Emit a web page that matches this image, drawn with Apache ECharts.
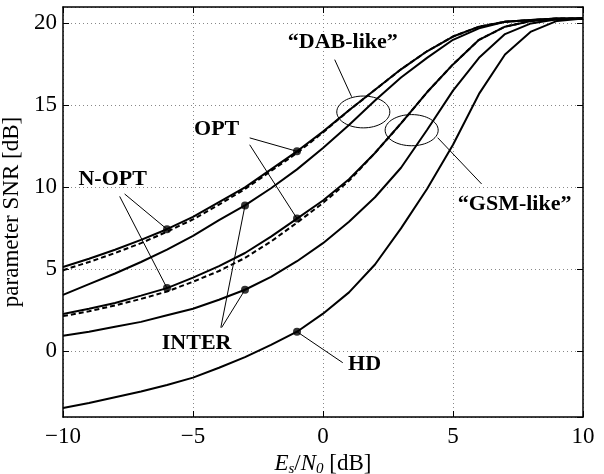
<!DOCTYPE html>
<html><head><meta charset="utf-8">
<script src="https://cdn.jsdelivr.net/npm/echarts/dist/echarts.min.js"></script>
<style>html,body{margin:0;padding:0;background:#fff}#c{width:604px;height:474px}</style>
</head><body><div id="c"></div>
<script>
// ---- data ----
const xs       = [-10, -9, -8, -7, -6, -5, -4, -3, -2, -1, 0, 1, 2, 3, 4, 5, 6, 7, 8, 9, 10];
const dabNopt  = [5.15, 5.65, 6.2, 6.8, 7.45, 8.2, 9.1, 10.0, 11.1, 12.2, 13.4, 14.7, 15.95, 17.2, 18.3, 19.2, 19.8, 20.1, 20.2, 20.3, 20.3];
const dabOpt   = [4.95, 5.45, 6.0, 6.6, 7.3, 8.05, 8.95, 9.9, 11.0, 12.1, 13.35, 14.7, 15.95, 17.2, 18.3, 19.2, 19.8, 20.1, 20.2, 20.3, 20.3];
const dabInter = [3.45, 4.1, 4.75, 5.45, 6.2, 7.05, 8.0, 8.9, 9.95, 11.1, 12.4, 13.8, 15.3, 16.7, 17.9, 19.0, 19.7, 20.1, 20.2, 20.3, 20.3];
const gsmNopt  = [2.28, 2.6, 2.95, 3.4, 3.86, 4.5, 5.2, 6.0, 7.0, 8.1, 9.2, 10.5, 12.1, 13.9, 15.8, 17.5, 19.0, 19.8, 20.15, 20.25, 20.3];
const gsmOpt   = [2.15, 2.45, 2.8, 3.2, 3.65, 4.25, 4.9, 5.7, 6.7, 7.85, 9.05, 10.4, 12.1, 13.9, 15.8, 17.5, 19.0, 19.8, 20.15, 20.25, 20.3];
const gsmInter = [0.96, 1.2, 1.5, 1.8, 2.2, 2.6, 3.15, 3.76, 4.55, 5.5, 6.6, 7.9, 9.4, 11.2, 13.5, 15.9, 17.9, 19.35, 20.0, 20.25, 20.3];
const hd       = [-3.45, -3.15, -2.8, -2.45, -2.05, -1.6, -1.0, -0.35, 0.4, 1.2, 2.3, 3.6, 5.3, 7.5, 9.9, 12.6, 15.7, 18.1, 19.5, 20.15, 20.3];
const xTicks = [-10, -5, 0, 5, 10];
const yTicks = [0, 5, 10, 15, 20];
// marked points: [curve, x]
const markers = [[dabNopt, -6], [dabNopt, -1], [gsmNopt, -6], [gsmNopt, -1], [dabInter, -3], [gsmInter, -3], [hd, -1]];

// ---- annotations (data coordinates) ----
const labels = [
  { t: '\u201CDAB-like\u201D', p: [0.76, 18.82] },
  { t: 'OPT', p: [-4.09, 13.52] },
  { t: 'N-OPT', p: [-8.09, 10.47] },
  { t: 'INTER', p: [-4.86, 0.47] },
  { t: 'HD', p: [1.6, -0.81] },
  { t: '\u201CGSM-like\u201D', p: [7.37, 8.95] }
];
const leaders = [
  [[0.45, 17.79], [1.10, 15.53]],
  [[4.41, 13.03], [6.10, 10.21]],
  [[-2.82, 13.02], [-1, dabNopt[9]]],
  [[-2.82, 12.6], [-1, gsmNopt[9]]],
  [[-7.63, 9.6], [-6, dabNopt[4]]],
  [[-7.82, 9.45], [-6, gsmNopt[4]]],
  [[-3.93, 1.45], [-3, dabInter[7]]],
  [[-3.90, 1.45], [-3, gsmInter[7]]],
  [[-1, hd[9]], [0.76, -0.69]]
];
const ellipses = [
  { c: [1.55, 14.6], r: [1.02, 0.97] },
  { c: [3.41, 13.49], r: [1.02, 0.95] }
];

const FONT = '"Liberation Serif", "Times New Roman", serif';
const pair = (arr) => xs.map((x, i) => [x, arr[i]]);
const minus = (v) => String(v).replace('-', '\u2212');

const chart = echarts.init(document.getElementById('c'), null, { renderer: 'canvas' });

function solid(name, arr) {
  return { name, type: 'line', data: pair(arr), showSymbol: false, symbol: 'none', silent: true,
    lineStyle: { color: '#000', width: 2 }, z: 3, animation: false };
}
function dashed(name, arr) {
  return { name, type: 'line', data: pair(arr), showSymbol: false, symbol: 'none', silent: true,
    lineStyle: { color: '#000', width: 2, type: [5, 3] }, z: 2, animation: false };
}

const axLine = { show: true, onZero: false, lineStyle: { color: '#000', width: 1.5 } };
const tick = { show: true, inside: true, length: 6, lineStyle: { color: '#000', width: 1 } };

chart.setOption({
  animation: false,
  backgroundColor: '#fff',
  grid: { left: 63, right: 21, top: 7, bottom: 57, containLabel: false, outerBoundsMode: 'none' },
  xAxis: [
    { type: 'value', min: -10, max: 10, interval: 5, position: 'bottom',
      axisLine: axLine, axisTick: tick,
      splitLine: { show: true, lineStyle: { color: '#888', width: 1, type: [1, 3] } },
      axisLabel: { color: '#000', fontFamily: FONT, fontSize: 23, margin: 8, formatter: minus },
      name: '{i|E}{s|s}{n|/}{i|N}{s|0}{n| [dB]}', nameLocation: 'middle', nameGap: 34,
      nameTextStyle: { color: '#000', fontFamily: FONT, fontSize: 22,
        rich: {
          i: { fontFamily: FONT, fontSize: 23, fontStyle: 'italic', color: '#000' },
          s: { fontFamily: FONT, fontSize: 15, fontStyle: 'italic', color: '#000', padding: [10, 0, 0, 0] },
          n: { fontFamily: FONT, fontSize: 23, color: '#000' }
        } } },
    { type: 'value', min: -10, max: 10, interval: 5, position: 'top',
      axisLine: axLine, axisTick: tick, axisLabel: { show: false }, splitLine: { show: false } }
  ],
  yAxis: [
    { type: 'value', min: -4, max: 21, splitNumber: 5, position: 'left',
      axisLine: axLine, axisTick: tick,
      splitLine: { show: true, lineStyle: { color: '#888', width: 1, type: [1, 3] } },
      axisLabel: { color: '#000', fontFamily: FONT, fontSize: 23, margin: 6, showMinLabel: false, showMaxLabel: false,
        formatter: (v) => yTicks.indexOf(v) >= 0 ? minus(v) : '' },
      name: 'parameter SNR [dB]', nameLocation: 'middle', nameGap: 29,
      nameTextStyle: { color: '#000', fontFamily: FONT, fontSize: 23 } },
    { type: 'value', min: -4, max: 21, splitNumber: 5, position: 'right',
      axisLine: axLine, axisTick: tick, axisLabel: { show: false }, splitLine: { show: false } }
  ],
  series: [
    dashed('DAB OPT', dabOpt),
    solid('DAB N-OPT', dabNopt),
    solid('DAB INTER', dabInter),
    dashed('GSM OPT', gsmOpt),
    solid('GSM N-OPT', gsmNopt),
    solid('GSM INTER', gsmInter),
    solid('HD', hd),
    { name: 'markers', type: 'scatter', symbol: 'circle', symbolSize: 8, silent: true, z: 5,
      itemStyle: { color: '#000' },
      data: markers.map(([arr, x]) => [x, arr[xs.indexOf(x)]]) }
  ]
});

function px(p) { return chart.convertToPixel({ gridIndex: 0 }, p); }
const g = [];
ellipses.forEach(e => {
  const c = px(e.c), a = px([e.c[0] + e.r[0], e.c[1]]), b = px([e.c[0], e.c[1] + e.r[1]]);
  g.push({ type: 'ellipse', shape: { cx: c[0], cy: c[1], rx: Math.abs(a[0] - c[0]), ry: Math.abs(c[1] - b[1]) },
    style: { fill: 'none', stroke: '#000', lineWidth: 1 }, z: 10, silent: true });
});
leaders.forEach(l => {
  const a = px(l[0]), b = px(l[1]);
  g.push({ type: 'line', shape: { x1: a[0], y1: a[1], x2: b[0], y2: b[1] },
    style: { stroke: '#000', lineWidth: 1 }, z: 10, silent: true });
});
labels.forEach(l => {
  const p = px(l.p);
  g.push({ type: 'text', x: p[0], y: p[1], z: 11, silent: true,
    style: { text: l.t, font: 'bold 22px ' + FONT, fill: '#000',
      align: 'center', verticalAlign: 'middle', textAlign: 'center', textVerticalAlign: 'middle' } });
});
chart.setOption({ graphic: g });
</script>
</body></html>
